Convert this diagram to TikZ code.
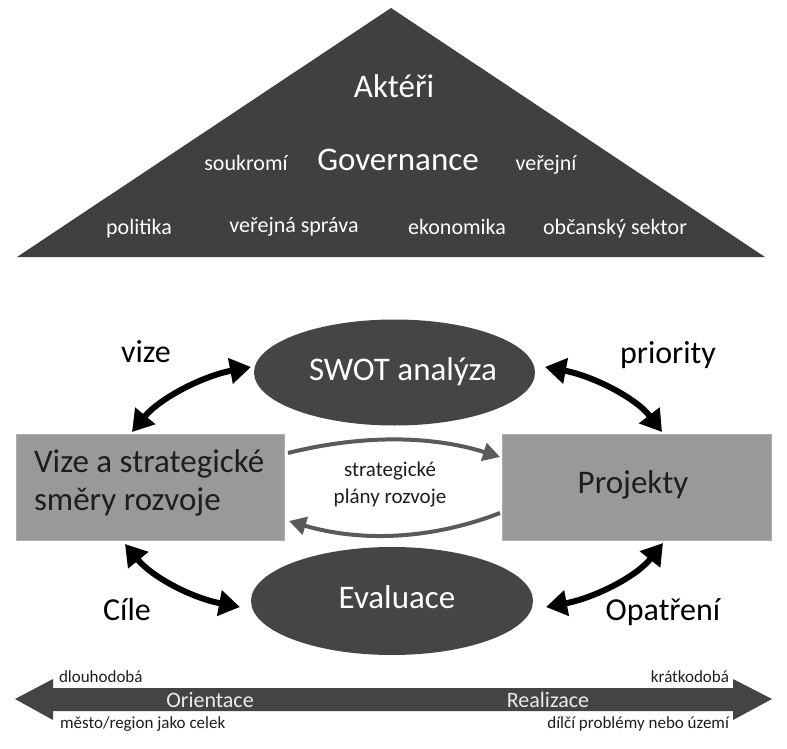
\documentclass[tikz,border=0pt]{standalone}
\usepackage{fontspec}
\setmainfont{Carlito}
\usetikzlibrary{arrows.meta,shapes.geometric}
\definecolor{tri}{HTML}{404040}
\definecolor{ell}{HTML}{454545}
\definecolor{box}{HTML}{999999}
\definecolor{arc}{HTML}{5A5A5A}
\definecolor{bar}{HTML}{444444}
\definecolor{dtext}{HTML}{1E1E1E}
\newcommand\fsz[1]{\fontsize{#1pt}{#1pt}\selectfont}
\tikzset{
  stxt/.style={inner sep=0pt, outer sep=0pt},
  plain/.style={inner sep=0pt, outer sep=0pt, text=black},
  ellnode/.style={ellipse, fill=ell, inner sep=0pt, minimum width=281pt, minimum height=106pt},
  boxnode/.style={rectangle, fill=box, draw=box!80, line width=0.6pt, inner sep=0pt, minimum height=106pt},
  bigarrow/.style={line width=6pt, black, {Triangle[length=21pt,width=25pt]}-{Triangle[length=21pt,width=25pt]}},
  grayarrow/.style={line width=4pt, arc, -{Triangle[length=17pt,width=18pt]}},
}
\begin{document}
\begin{tikzpicture}[x=1pt,y=-1pt]
\useasboundingbox (0,0) rectangle (787,749);
\fill[white] (0,0) rectangle (787,749);

% ---- triangle: actors
\fill[tri] (17,257) -- (391,8) -- (765,257) -- cycle;
\node[stxt, anchor=base, font=\fsz{33}, text=white] (akteri) at (394,98) {Aktéři};
\node[stxt, anchor=base, font=\fsz{33}, text=white] (gov) at (398,171) {Governance};
\node[stxt, anchor=base, font=\fsz{22}, text=white] (soukromi) at (246,171) {soukromí};
\node[stxt, anchor=base, font=\fsz{22}, text=white] (verejni) at (546,171) {veřejní};
\node[stxt, anchor=base, font=\fsz{22}, text=white] (politika) at (139,234) {politika};
\node[stxt, anchor=base, font=\fsz{22}, text=white] (vsprava) at (294,232) {veřejná správa};
\node[stxt, anchor=base, font=\fsz{22}, text=white] (ekonomika) at (457,234) {ekonomika};
\node[stxt, anchor=base, font=\fsz{22}, text=white] (obcan) at (615,234) {občanský sektor};

% ---- main nodes
\node[ellnode] (swot) at (394.5,372.5) {};
\node[ellnode, minimum width=282pt, minimum height=108pt] (eval) at (392,601) {};
\node[boxnode, minimum width=268pt] (vize) at (150,487) {};
\node[boxnode, minimum width=269pt] (proj) at (636.5,487) {};

\node[stxt, anchor=base, font=\fsz{33}, text=white] (swott) at (403,380) {SWOT analýza};
\node[stxt, anchor=base, font=\fsz{33}, text=white] (evalt) at (397,608) {Evaluace};
\node[stxt, anchor=base west, font=\fsz{33}, text=dtext] (vizet1) at (34,472) {Vize a strategické};
\node[stxt, anchor=base west, font=\fsz{33}, text=dtext] (vizet2) at (34,510) {směry rozvoje};
\node[stxt, anchor=base, font=\fsz{33}, text=dtext] (projt) at (633,493) {Projekty};

% ---- labels
\node[plain, anchor=base, font=\fsz{32}] (lvize) at (146,362) {vize};
\node[plain, anchor=base, font=\fsz{32}] (lprio) at (668,363) {priority};
\node[plain, anchor=base, font=\fsz{32}] (lcile) at (127,620) {Cíle};
\node[plain, anchor=base, font=\fsz{32}] (lopat) at (663,620) {Opatření};
\node[plain, anchor=base, font=\fsz{21}, text=dtext] (pl1) at (390,476) {strategické};
\node[plain, anchor=base, font=\fsz{21}, text=dtext] (pl2) at (390,503) {plány rozvoje};

% ---- black double arrows
\coordinate (a1s) at (251,367); \coordinate (a1e) at (132,432);
\coordinate (a2s) at (545,367); \coordinate (a2e) at (662,432);
\coordinate (a3s) at (240,607); \coordinate (a3e) at (125,544);
\coordinate (a4s) at (546,607); \coordinate (a4e) at (663,543);
\draw[bigarrow] (a1s) .. controls (203,376) and (160,398) .. (a1e);
\draw[bigarrow] (a2s) .. controls (593,376) and (636,398) .. (a2e);
\draw[bigarrow] (a3s) .. controls (192,598) and (152,577) .. (a3e);
\draw[bigarrow] (a4s) .. controls (594,598) and (636,577) .. (a4e);

% ---- gray arcs between boxes
\coordinate (g1s) at (288,453); \coordinate (g1e) at (500,457);
\coordinate (g2s) at (500,513); \coordinate (g2e) at (289,521);
\draw[grayarrow] (g1s) .. controls (360,435) and (430,435) .. (g1e);
\draw[grayarrow] (g2s) .. controls (430,540) and (360,542) .. (g2e);

% ---- bottom orientation arrow
\fill[bar] (15,699) -- (53,679) -- (53,688) -- (733,688) -- (733,679) -- (772,699)
  -- (733,720) -- (733,711) -- (53,711) -- (53,720) -- cycle;
\node[stxt, anchor=base, font=\fsz{22}, text=white!92!black] (orient) at (210,707) {Orientace};
\node[stxt, anchor=base, font=\fsz{22}, text=white!92!black] (realiz) at (548,707) {Realizace};
\node[plain, anchor=base west, font=\fsz{17}, text=dtext] (dlouho) at (59,682) {dlouhodobá};
\node[plain, anchor=base east, font=\fsz{17}, text=dtext] (kratko) at (729,682) {krátkodobá};
\node[plain, anchor=base west, font=\fsz{17}, text=dtext] (mesto) at (60,728) {město/region jako celek};
\node[plain, anchor=base east, font=\fsz{17}, text=dtext] (dilci) at (729,728) {dílčí problémy nebo území};
\end{tikzpicture}
\end{document}
